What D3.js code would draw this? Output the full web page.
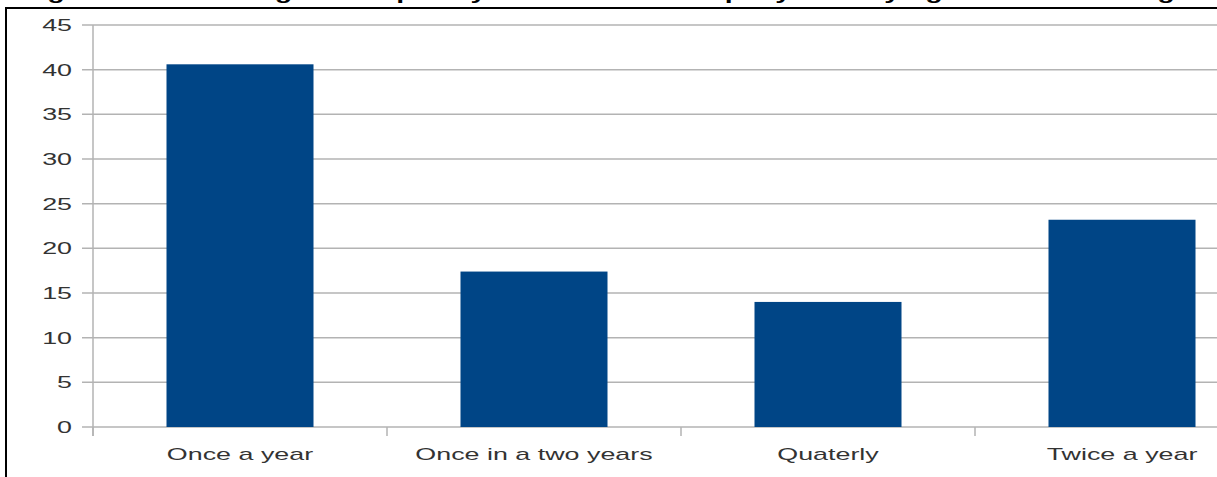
<!DOCTYPE html>
<html>
<head>
<meta charset="utf-8">
<script src="https://cdn.jsdelivr.net/npm/d3@7"></script>
<style>
  html, body { margin: 0; padding: 0; background: #fff; overflow: hidden; }
  svg { display: block; }
  text { font-family: "Liberation Sans", Arial, sans-serif; }
</style>
</head>
<body>
<svg id="chart" width="1217" height="477"></svg>
<script>
const categories = ["Once a year", "Once in a two years", "Quaterly", "Twice a year"];
const values = [40.6, 17.4, 14.0, 23.2];
const yTicks = [0, 5, 10, 15, 20, 25, 30, 35, 40, 45];
const titleText = "Figure 4.3: Showing the frequency at which the company is carrying out staff training";

const W = 1217, H = 477;
const mLeft = 93, plotRight = 1269, mTop = 25, mBottom = 427;
const stretch = 1.58;

const svg = d3.select("#chart");

const x = d3.scaleBand().domain(categories).range([mLeft, plotRight]).paddingInner(0.5).paddingOuter(0.25);
const y = d3.scaleLinear().domain([0, 45]).range([mBottom, mTop]);

// clipped title (only descenders visible, as in the reference)
svg.append("text")
  .attr("transform", `translate(22,-0.8) scale(${stretch},1)`)
  .attr("font-size", 18).attr("font-weight", "bold").attr("fill", "#000")
  .text(titleText);

// gridlines
svg.append("g").selectAll("line").data(yTicks).join("line")
  .attr("x1", mLeft - 11).attr("x2", W)
  .attr("y1", d => y(d)).attr("y2", d => y(d))
  .attr("stroke", "#b3b3b3").attr("stroke-width", 1.5);

// y axis line
svg.append("line").attr("x1", mLeft).attr("x2", mLeft)
  .attr("y1", y(45)).attr("y2", mBottom + 9)
  .attr("stroke", "#b3b3b3").attr("stroke-width", 1.5);

// category ticks
const step = x.step();
const boundaries = categories.map(c => x(c) - x.paddingOuter() * step);
svg.append("g").selectAll("line").data(boundaries).join("line")
  .attr("x1", d => d).attr("x2", d => d)
  .attr("y1", mBottom).attr("y2", mBottom + 9)
  .attr("stroke", "#b3b3b3").attr("stroke-width", 1.5);

// bars
svg.append("g").selectAll("rect").data(values).join("rect")
  .attr("x", (d, i) => x(categories[i]))
  .attr("width", x.bandwidth())
  .attr("y", d => y(d))
  .attr("height", d => mBottom - y(d))
  .attr("fill", "#004586");

// y labels
svg.append("g").selectAll("text").data(yTicks).join("text")
  .attr("transform", d => `translate(72,${y(d)}) scale(${stretch},1)`)
  .attr("text-anchor", "end").attr("dy", "0.35em")
  .attr("font-size", 17).attr("fill", "#333")
  .text(d => d);

// x labels
svg.append("g").selectAll("text").data(categories).join("text")
  .attr("transform", d => `translate(${x(d) + x.bandwidth() / 2},460) scale(${stretch},1)`)
  .attr("text-anchor", "middle")
  .attr("font-size", 17).attr("fill", "#333")
  .text(d => d);

// border
svg.append("path")
  .attr("d", `M6,${H} L6,8 L${W},8`)
  .attr("fill", "none").attr("stroke", "#000").attr("stroke-width", 2);
</script>
</body>
</html>
